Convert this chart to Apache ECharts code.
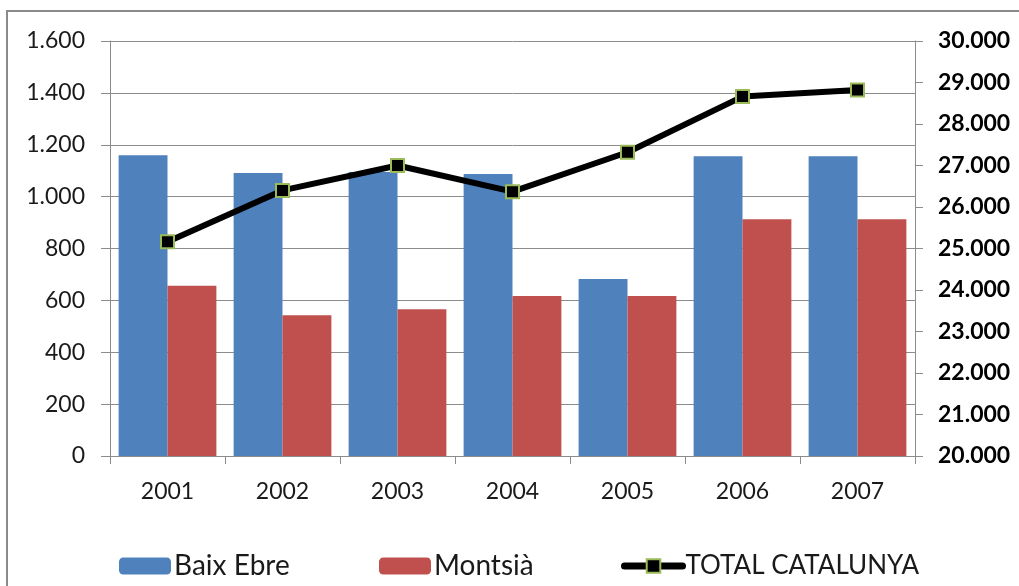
<!DOCTYPE html>
<html>
<head>
<meta charset="utf-8">
<script src="https://cdn.jsdelivr.net/npm/echarts@6/dist/echarts.min.js"></script>
<style>
  html, body { margin: 0; padding: 0; background: #fff; }
  #chart { width: 1019px; height: 586px; }
</style>
</head>
<body>
<div id="chart"></div>
<script>
// dades llegides del gràfic
let years = ['2001', '2002', '2003', '2004', '2005', '2006', '2007'];
let baixEbre = [1160, 1091, 1095, 1087, 682, 1156, 1156];
let montsia = [656, 543, 566, 617, 617, 913, 913];
let totalCatalunya = [25160, 26400, 27000, 26370, 27320, 28660, 28820];

let font = 'Lato';
let textColor = '#1a1a1a';
let gridColor = '#8c8c8c';

// separador de milers amb punt
let fmt = v => String(v).replace(/\B(?=(\d{3})+(?!\d))/g, '.');

let chart = echarts.init(document.getElementById('chart'), null, { renderer: 'canvas' });

let legendBase = { top: 552, padding: 0, itemWidth: 52, itemHeight: 17, itemGap: 0 };
let legendText = size => ({ fontFamily: font, fontSize: size, color: textColor, padding: [0, 0, 0, -2] });

chart.setOption({
  animation: false,
  backgroundColor: '#fff',
  graphic: [{
    type: 'rect',
    shape: { x: 7, y: 11, width: 1040, height: 600 },
    style: { fill: 'none', stroke: '#8a8a8a', lineWidth: 2 },
    silent: true
  }],
  grid: { left: 110, right: 104, top: 41, bottom: 130, containLabel: false },
  legend: [
    Object.assign({ data: ['Baix Ebre'], left: 119, textStyle: legendText(28) }, legendBase),
    Object.assign({ data: ['Montsià'], left: 379, textStyle: legendText(28) }, legendBase),
    Object.assign({}, legendBase, {
      data: ['TOTAL CATALUNYA'], left: 621, itemWidth: 58, top: 553,
      textStyle: legendText(26),
      lineStyle: { width: 7, cap: 'round' }
    })
  ],
  xAxis: {
    type: 'category',
    data: years,
    axisLine: { lineStyle: { color: gridColor, width: 1 } },
    axisTick: { show: true, length: 8, lineStyle: { color: gridColor } },
    axisLabel: { fontFamily: font, fontSize: 23, color: textColor, margin: 24 }
  },
  yAxis: [{
    type: 'value',
    min: 0,
    max: 1600,
    interval: 200,
    axisLine: { show: true, lineStyle: { color: gridColor, width: 1 } },
    axisTick: { show: true, length: 9, lineStyle: { color: gridColor } },
    splitLine: { lineStyle: { color: gridColor, width: 1 } },
    axisLabel: { fontFamily: font, fontSize: 23, color: textColor, margin: 25, formatter: fmt }
  }, {
    type: 'value',
    min: 20000,
    max: 30000,
    interval: 1000,
    alignTicks: false,
    axisLine: { show: true, lineStyle: { color: gridColor, width: 1 } },
    axisTick: { show: true, length: 8, lineStyle: { color: gridColor } },
    splitLine: { show: false },
    axisLabel: { fontFamily: font, fontSize: 23, fontWeight: 'bold', color: '#000', margin: 23, formatter: fmt }
  }],
  series: [{
    name: 'Baix Ebre',
    type: 'bar',
    data: baixEbre,
    barGap: '0%',
    barCategoryGap: '15%',
    itemStyle: { color: '#4f81bd' }
  }, {
    name: 'Montsià',
    type: 'bar',
    data: montsia,
    itemStyle: { color: '#c0504d' }
  }, {
    name: 'TOTAL CATALUNYA',
    type: 'line',
    yAxisIndex: 1,
    data: totalCatalunya,
    z: 5,
    symbol: 'rect',
    symbolSize: 13,
    lineStyle: { color: '#000', width: 6 },
    itemStyle: { color: '#000', borderColor: '#9bbb59', borderWidth: 2 }
  }]
});
</script>
</body>
</html>
